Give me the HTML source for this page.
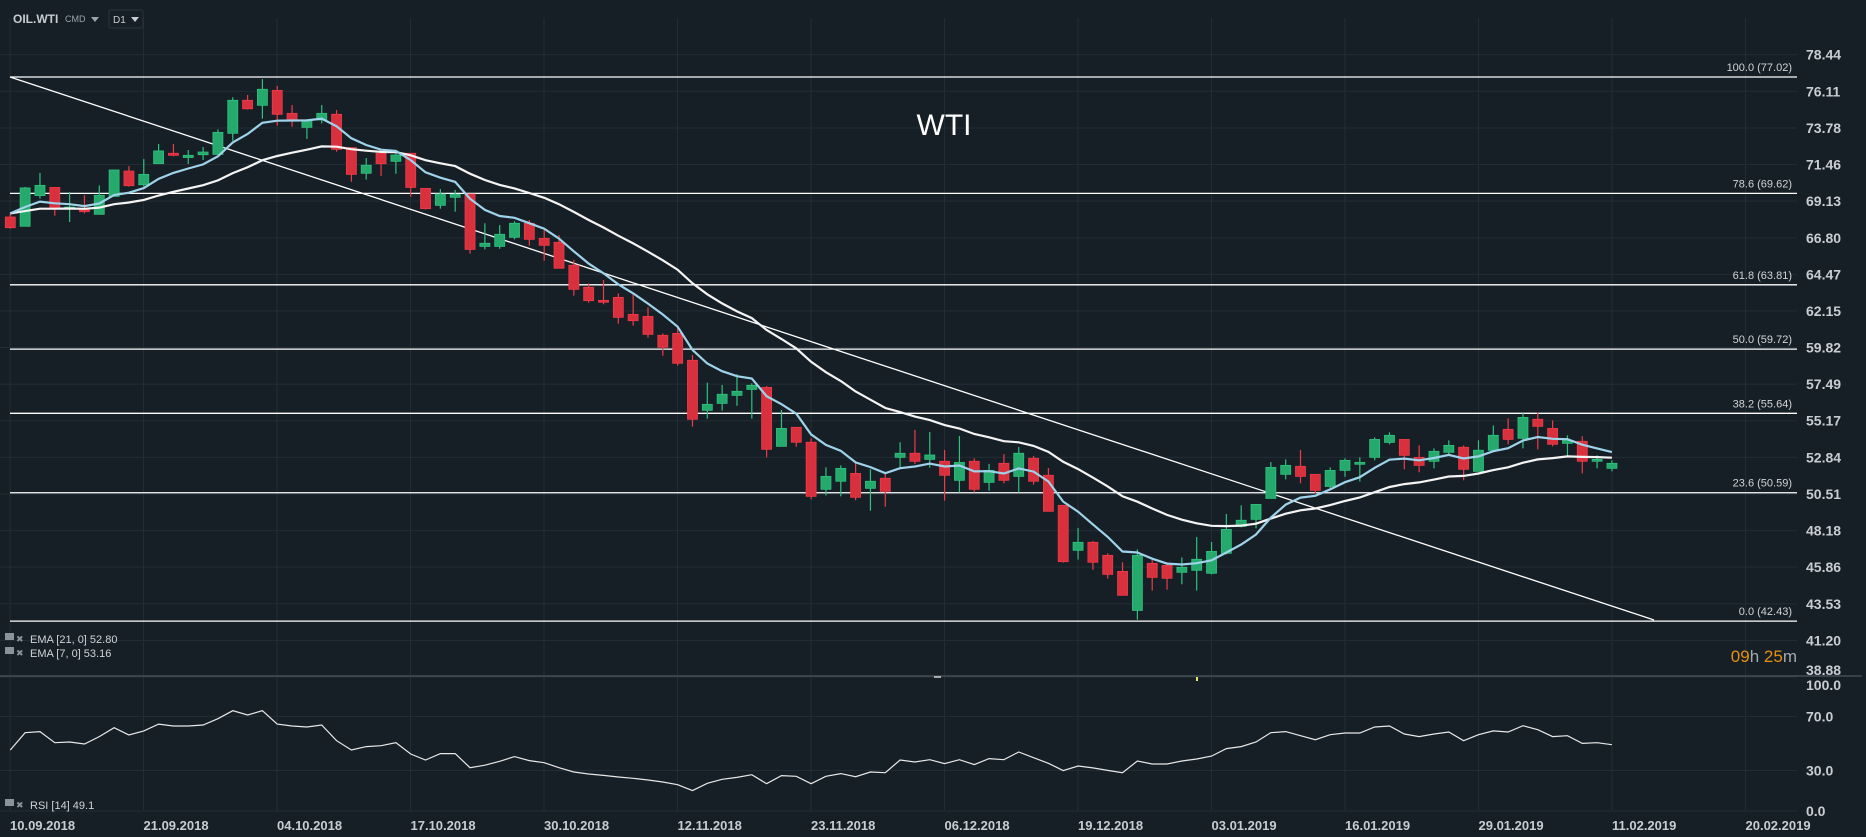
<!DOCTYPE html>
<html><head><meta charset="utf-8"><style>
html,body{margin:0;padding:0;background:#171f26;}
svg{display:block;font-family:"Liberation Sans",sans-serif;}
</style></head><body>
<svg id="chart" width="1866" height="837" viewBox="0 0 1866 837" xmlns="http://www.w3.org/2000/svg">
<rect x="0" y="0" width="1866" height="837" fill="#171f26"/>
<g id="grid"></g>
<g id="fib"></g>
<line x1="10" y1="77" x2="1654" y2="620" stroke="#ffffff" stroke-width="1.3"/>
<g id="candles"></g>
<g id="emas"></g>
<g id="rsi"></g>
<g id="axes"></g>
<text x="944" y="135" font-size="30" fill="#ffffff" text-anchor="middle">WTI</text>
<g>
<text x="13" y="23" font-size="12" font-weight="bold" fill="#c8cdd2">OIL.WTI</text>
<text x="65" y="22" font-size="9" fill="#9aa3ab">CMD</text>
<path d="M91 17 L99 17 L95 22 Z" fill="#9aa3ab"/>
<rect x="109" y="10" width="34" height="18" rx="2" fill="none" stroke="#2a343d"/>
<text x="113" y="23" font-size="10" fill="#c8cdd2">D1</text>
<path d="M131 17 L139 17 L135 22 Z" fill="#c8cdd2"/>
</g>
<g font-size="11" fill="#d0d4d8">
<rect x="5" y="633" width="9" height="7" fill="#8a939b"/>
<text x="16" y="642" font-size="9" fill="#8a939b">✖</text>
<text x="30" y="643">EMA [21, 0] 52.80</text>
<rect x="5" y="647" width="9" height="7" fill="#8a939b"/>
<text x="16" y="656" font-size="9" fill="#8a939b">✖</text>
<text x="30" y="657">EMA [7, 0] 53.16</text>
<rect x="5" y="799" width="9" height="7" fill="#8a939b"/>
<text x="16" y="808" font-size="9" fill="#8a939b">✖</text>
<text x="30" y="809">RSI [14] 49.1</text>
</g>
<line x1="0" y1="676" x2="1862" y2="676" stroke="#4a5660" stroke-width="1.2"/>
<rect x="934" y="676" width="7" height="2" fill="#aaaaaa"/>
<rect x="1196" y="677" width="2" height="4" fill="#e8e070"/>
<text x="1797" y="662" font-size="17" text-anchor="end"><tspan fill="#e8900c">09</tspan><tspan fill="#a0a8b0">h </tspan><tspan fill="#e8900c">25</tspan><tspan fill="#a0a8b0">m</tspan></text>
</svg>
<script>
const opens=[68.12,67.53,69.48,70.0,68.67,68.57,68.29,69.43,71.04,70.17,71.51,72.17,71.9,72.08,72.1,73.44,75.54,75.22,76.17,74.71,73.82,74.29,74.65,72.53,70.9,72.17,71.66,72.17,69.94,68.86,69.37,69.58,66.25,66.25,66.83,67.72,66.76,66.51,65.05,63.65,62.82,63.01,61.93,61.8,60.6,60.72,59.01,55.83,56.27,56.78,57.16,57.29,53.54,54.75,53.8,50.81,51.32,51.82,50.87,51.51,52.84,53.1,52.71,52.59,51.38,52.59,51.25,52.46,51.63,52.78,51.7,49.79,46.93,47.44,46.61,45.59,43.11,46.1,45.97,45.53,45.66,45.47,46.74,48.45,48.9,50.23,51.76,52.27,51.76,50.99,52.01,52.4,52.84,53.79,53.98,52.84,52.59,53.16,53.48,51.95,53.29,54.62,54.05,55.26,54.68,53.73,53.86,52.59,52.14];
const highs=[68.35,70.03,70.92,70.0,69.71,69.5,70.13,71.11,71.36,71.8,72.76,72.76,72.38,72.57,73.69,75.73,75.88,76.89,76.45,75.24,74.33,75.24,74.92,72.53,71.87,72.17,72.17,72.17,69.94,69.9,69.84,69.58,67.72,67.61,67.85,67.93,67.29,66.97,65.39,63.9,64.11,63.27,63.18,62.38,60.72,61.15,59.35,57.59,57.44,58.12,57.55,57.37,55.85,54.75,54.05,52.21,52.33,52.46,52.08,51.82,53.8,54.58,54.45,53.31,54.2,52.78,52.42,53.05,53.5,52.93,52.16,49.79,48.35,47.52,46.74,46.17,46.99,46.31,46.17,46.48,47.78,47.46,49.24,49.79,49.85,52.54,52.71,53.31,51.76,52.2,52.78,52.84,54.11,54.43,53.98,53.6,53.41,53.92,53.6,53.92,54.87,55.32,55.64,55.7,55.19,54.24,54.18,52.97,52.65];
const lows=[67.38,67.53,69.29,68.2,67.8,68.35,68.29,69.43,70.05,70.05,71.51,71.98,71.49,71.74,72.1,72.97,74.95,74.37,73.93,73.86,73.08,74.07,72.27,70.36,70.5,70.73,70.87,69.41,68.6,68.65,68.46,65.79,66.06,66.1,66.7,66.3,65.34,64.86,63.12,62.67,62.57,61.34,61.21,60.45,59.3,58.67,54.79,55.3,55.81,56.12,55.3,52.84,53.54,53.52,50.17,50.42,50.36,50.11,49.45,49.7,52.08,52.42,52.18,50.09,50.6,50.6,50.72,51.19,50.6,51.1,49.41,46.15,46.34,45.7,45.13,44.07,42.52,44.37,44.43,44.77,44.37,45.4,46.67,48.39,48.33,50.23,51.44,51.19,50.55,50.87,51.6,51.3,52.65,53.67,52.08,51.89,52.14,53.05,51.38,51.95,53.29,53.67,53.41,53.35,53.54,52.9,51.82,52.14,51.95];
const closes=[67.44,69.97,70.13,68.67,68.75,68.46,69.5,71.11,70.11,70.83,72.32,72.04,72.04,72.25,73.5,75.54,75.0,76.24,74.65,74.29,74.29,74.71,72.42,70.83,71.41,71.51,72.06,70.0,68.65,69.58,69.56,66.06,66.45,67.02,67.72,66.7,66.32,64.86,63.52,62.8,62.7,61.74,61.53,60.66,59.84,58.82,55.26,56.21,56.85,57.04,57.42,53.35,54.68,53.8,50.36,51.63,52.14,50.3,51.32,50.68,53.1,52.59,52.99,51.7,52.52,50.81,52.01,51.38,53.1,51.32,49.41,46.21,47.44,46.17,45.4,44.07,46.61,45.21,45.15,45.85,46.36,46.86,48.26,48.84,49.85,52.2,52.33,51.63,50.74,52.01,52.65,52.52,53.98,54.24,52.97,52.33,53.22,53.6,52.08,53.29,54.24,53.98,55.38,54.81,53.67,53.92,52.59,52.71,52.46];
const rsiValues=[45.2,58.0,58.8,50.6,51.1,49.6,55.1,61.7,56.3,59.3,64.4,63.0,63.0,63.7,68.4,74.3,71.1,74.3,64.4,63.0,62.2,63.7,52.1,45.2,47.7,48.4,50.6,42.2,37.8,42.5,42.5,32.1,33.9,36.8,40.3,37.3,35.8,32.1,28.9,27.4,26.4,25.2,24.2,23.0,21.5,19.5,15.1,20.5,23.5,24.9,26.9,20.2,26.2,25.7,20.2,25.7,27.7,25.4,28.9,28.4,37.8,36.3,38.0,35.1,38.0,34.4,38.8,38.0,43.7,39.5,35.3,29.9,33.3,31.9,30.1,28.4,37.0,34.8,34.8,37.0,38.5,40.7,46.2,47.7,51.1,58.0,58.8,55.8,52.8,56.5,57.8,57.8,62.2,63.0,57.0,55.1,57.0,58.5,52.1,56.5,59.3,58.5,63.2,60.2,55.1,55.8,50.1,50.6,49.1];
const priceTicks=["78.44","76.11","73.78","71.46","69.13","66.80","64.47","62.15","59.82","57.49","55.17","52.84","50.51","48.18","45.86","43.53","41.20","38.88"];
const rsiTicks=["100.0","70.0","30.0","0.0"];
const dateLabels=["10.09.2018","21.09.2018","04.10.2018","17.10.2018","30.10.2018","12.11.2018","23.11.2018","06.12.2018","19.12.2018","03.01.2019","16.01.2019","29.01.2019","11.02.2019","20.02.2019"];
const fibRatios=["100.0","78.6","61.8","50.0","38.2","23.6","0.0"];
const fibPrices=[77.02,69.62,63.81,59.72,55.64,50.59,42.43];
const emaSeed=68.35;

const NS="http://www.w3.org/2000/svg";
function yP(p){return 77+(77.02-p)*15.73;}
function xB(i){return 10.3+i*14.83;}
function yR(v){return 811-v*1.35;}
function mk(tag,attrs,parent){const e=document.createElementNS(NS,tag);for(const k in attrs)e.setAttribute(k,attrs[k]);parent.appendChild(e);return e;}
const grid=document.getElementById('grid'),axes=document.getElementById('axes');
const PR=1797;
priceTicks.forEach((t,i)=>{const y=yP(parseFloat(t));
 const l=mk('line',{x1:0,y1:y,x2:PR,y2:y,stroke:'#222c34','stroke-width':1},grid);
 
 
 const ty=(i===priceTicks.length-1)?Math.min(y+5,675):y+5;
 const tx=mk('text',{x:1806,y:ty,'font-size':14,'font-weight':'bold',fill:'#c8cdd2'},axes);tx.textContent=t;
 
 
});
rsiTicks.forEach(t=>{const y=yR(parseFloat(t));
 if(parseFloat(t)<100){const l=mk('line',{x1:0,y1:y,x2:PR,y2:y,stroke:'#222c34','stroke-width':1},grid);
 
 }
 const tx=mk('text',{x:1806,y:(parseFloat(t)==100?y+14:y+5),'font-size':14,'font-weight':'bold',fill:'#c8cdd2'},axes);tx.textContent=t;
 
 
});
dateLabels.forEach((d,i)=>{const x=10+i*133.5;
 const l=mk('line',{x1:x,y1:18,x2:x,y2:811,stroke:'#222c34','stroke-width':1},grid);
 
 
 const tx=mk('text',{x:x,y:830,'font-size':13,'font-weight':'bold',fill:'#c8cdd2'},axes);tx.textContent=d;
 
 
});
const fib=document.getElementById('fib');
fibPrices.forEach((p,i)=>{const y=yP(p);
 const l=mk('line',{x1:10,y1:y,x2:PR,y2:y,stroke:'#ffffff','stroke-width':1.3},fib);
 
 
 const tx=mk('text',{x:1792,y:y-6,'font-size':11,fill:'#d0d4d8','text-anchor':'end'},fib);
 tx.textContent=fibRatios[i]+' ('+p.toFixed(2)+')';
 
 
});
const cg=document.getElementById('candles');
closes.forEach((c,i)=>{const o=opens[i],up=c>=o,col=up?'#26a96c':'#d9303e',stk=up?'#2ec27e':'#f03a48';
 const x=xB(i);
 const g=mk('g',{},cg);
 
 
 const w=mk('line',{x1:x,y1:yP(highs[i]),x2:x,y2:yP(lows[i]),stroke:stk,'stroke-width':1.2},g);
 
 
 const top=yP(Math.max(o,c)),bot=yP(Math.min(o,c));
 const b=mk('rect',{x:x-5,y:top,width:10,height:Math.max(1.5,bot-top),fill:col,stroke:stk,'stroke-width':0.8},g);
 
 
});
function ema(n){const k=2/(n+1);let e=emaSeed;return closes.map((c,i)=>{if(i>0)e=c*k+e*(1-k);return e;});}
const eg=document.getElementById('emas');
const e21=ema(21),e7=ema(7);
const p21=mk('path',{d:e21.map((v,i)=>(i?'L':'M')+xB(i).toFixed(1)+' '+yP(v).toFixed(1)).join(''),fill:'none',stroke:'#f4f4f4','stroke-width':2.2},eg);


const p7=mk('path',{d:e7.map((v,i)=>(i?'L':'M')+xB(i).toFixed(1)+' '+yP(v).toFixed(1)).join(''),fill:'none',stroke:'#9fd3ea','stroke-width':2.2},eg);


const rg=document.getElementById('rsi');
const rp=mk('path',{d:rsiValues.map((v,i)=>(i?'L':'M')+xB(i).toFixed(1)+' '+yR(v).toFixed(1)).join(''),fill:'none',stroke:'#e8e8e8','stroke-width':1.2},rg);


</script>
</body></html>
